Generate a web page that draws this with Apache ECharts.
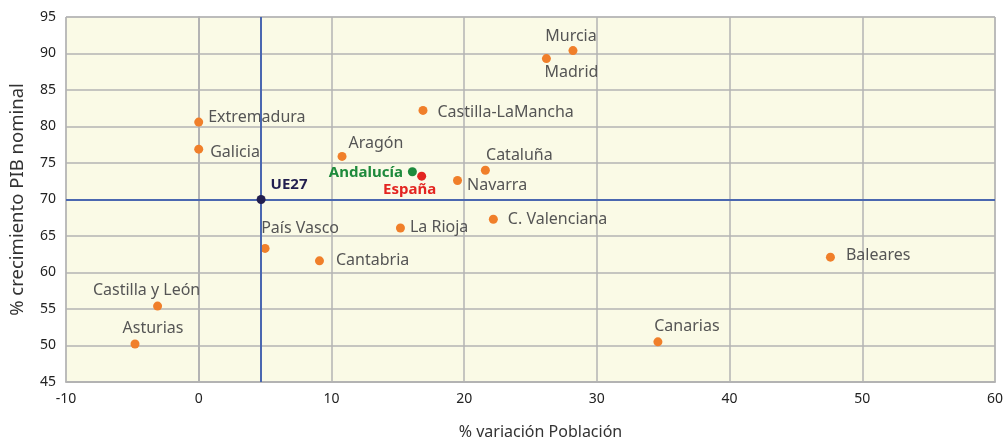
<!DOCTYPE html>
<html>
<head>
<meta charset="utf-8">
<script src="https://cdn.jsdelivr.net/npm/echarts@6/dist/echarts.min.js"></script>
<style>
  html, body { margin: 0; padding: 0; background: #fff; }
  #chart { width: 1005px; height: 443px; }
</style>
</head>
<body>
<div id="chart"></div>
<script>
// datos: % variación población (x) y % crecimiento PIB nominal (y)
var regiones = ['Extremadura', 'Galicia', 'Aragón', 'Castilla-LaMancha', 'Murcia', 'Madrid', 'Cataluña',
  'Navarra', 'C. Valenciana', 'La Rioja', 'País Vasco', 'Cantabria', 'Baleares', 'Castilla y León',
  'Asturias', 'Canarias']
var poblacion = [0.0, 0.0, 10.8, 16.9, 28.2, 26.2, 21.6, 19.5, 22.2, 15.2, 5.0, 9.1, 47.6, -3.1, -4.8, 34.6]
var pib = [80.6, 76.9, 75.9, 82.2, 90.4, 89.3, 74.0, 72.6, 67.3, 66.1, 63.3, 61.6, 62.1, 55.4, 50.2, 50.5]

var andalucia = [16.1, 73.8]
var espana = [16.8, 73.2]
var ue27 = [4.7, 70]

// colocación de las etiquetas: [posición, dx, dy]
var etiquetas = {
  'Extremadura': ['right', 0, -5],
  'Galicia': ['right', 2, 3],
  'Aragón': ['right', -3, -13],
  'Castilla-LaMancha': ['right', 5, 2],
  'Murcia': ['top', -2, 3],
  'Madrid': ['bottom', 25, -4],
  'Cataluña': ['top', 34, 3],
  'Navarra': ['right', 0, 5],
  'C. Valenciana': ['right', 5, 0],
  'La Rioja': ['right', 0, -1],
  'País Vasco': ['top', 35, -2],
  'Cantabria': ['right', 7, 0],
  'Baleares': ['right', 6, -2],
  'Castilla y León': ['top', -11, 2],
  'Asturias': ['top', 18, 2],
  'Canarias': ['top', 29, 2]
}

var puntos = regiones.map(function (n, i) {
  var e = etiquetas[n]
  return {
    name: n,
    value: [poblacion[i], pib[i]],
    label: { position: e[0], offset: [e[1], e[2]] }
  }
})

var fuente = '"Noto Sans", sans-serif'
var gris = '#b3b3b3'

var option = {
  animation: false,
  textStyle: { fontFamily: fuente },
  grid: {
    left: 66, right: 10, top: 17, bottom: 61,
    outerBoundsMode: 'none',
    show: true,
    backgroundColor: '#fafae6',
    borderColor: gris,
    borderWidth: 1
  },
  xAxis: {
    type: 'value',
    min: -10, max: 60, interval: 10,
    name: '% variación Población',
    nameLocation: 'middle',
    nameGap: 42,
    nameTextStyle: { fontSize: 16, color: '#333', padding: [0, 0, 0, 20] },
    axisLine: { show: true, lineStyle: { color: gris, width: 2 } },
    axisTick: { show: false },
    axisLabel: { fontSize: 14, color: '#222', margin: 10 },
    splitLine: { show: true, lineStyle: { color: gris, width: 1.5 } }
  },
  yAxis: {
    type: 'value',
    min: 45, max: 95, interval: 5,
    name: '% crecimiento PIB nominal',
    nameLocation: 'middle',
    nameGap: 39,
    nameTextStyle: { fontSize: 18.5, color: '#333' },
    axisLine: { show: true, lineStyle: { color: gris, width: 2 } },
    axisTick: { show: false },
    axisLabel: { fontSize: 14, color: '#222', margin: 10 },
    splitLine: { show: true, lineStyle: { color: gris, width: 1.5 } }
  },
  series: [
    {
      name: 'Regiones',
      type: 'scatter',
      symbolSize: 9,
      itemStyle: { color: '#f07f2a', opacity: 1 },
      label: { show: true, formatter: '{b}', fontSize: 16, color: '#555' },
      data: puntos,
      markLine: {
        silent: true,
        symbol: 'none',
        label: { show: false },
        lineStyle: { color: '#4a67b0', width: 2, type: 'solid' },
        data: [{ xAxis: ue27[0] }, { yAxis: ue27[1] }]
      },
      z: 3
    },
    {
      name: 'Andalucía',
      type: 'scatter',
      symbolSize: 9,
      itemStyle: { color: '#1e8a3c', opacity: 1 },
      label: { show: true, formatter: '{a}', position: 'left', offset: [0, 1], fontSize: 15, fontWeight: 'bold', color: '#1e8a3c' },
      data: [andalucia],
      z: 4
    },
    {
      name: 'España',
      type: 'scatter',
      symbolSize: 9,
      itemStyle: { color: '#e32521', opacity: 1 },
      label: { show: true, formatter: '{a}', position: 'bottom', offset: [-12, -3], fontSize: 15, fontWeight: 'bold', color: '#e32521' },
      data: [espana],
      z: 4
    },
    {
      name: 'UE27',
      type: 'scatter',
      symbolSize: 9,
      itemStyle: { color: '#221f4f', opacity: 1 },
      label: { show: true, formatter: '{a}', position: 'right', offset: [0, -15], fontSize: 15, fontWeight: 'bold', color: '#221f4f' },
      data: [ue27],
      z: 5
    }
  ]
}

var chart = echarts.init(document.getElementById('chart'))
chart.setOption(option)
</script>
</body>
</html>
